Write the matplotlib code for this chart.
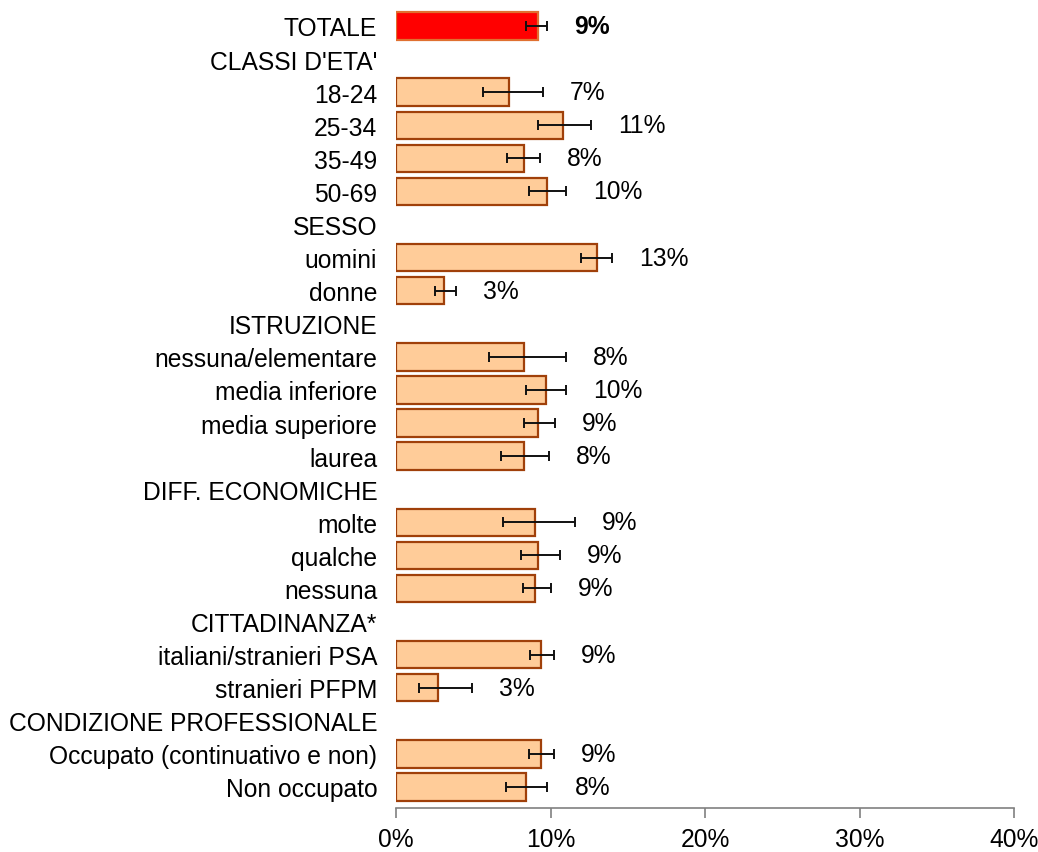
import numpy as np
import matplotlib
matplotlib.use("Agg")
import matplotlib.pyplot as plt

plt.rcParams['font.family'] = ['Liberation Sans', 'DejaVu Sans']

# Row labels (group headers have no bar)
categories = [
    "TOTALE",
    "CLASSI D'ETA'", "18-24", "25-34", "35-49", "50-69",
    "SESSO", "uomini", "donne",
    "ISTRUZIONE", "nessuna/elementare", "media inferiore", "media superiore", "laurea",
    "DIFF. ECONOMICHE", "molte", "qualche", "nessuna",
    "CITTADINANZA*", "italiani/stranieri PSA", "stranieri PFPM",
    "CONDIZIONE PROFESSIONALE", "Occupato (continuativo e non)", "Non occupato",
]

# Prevalence (%) with 95% confidence limits; None for header rows
values = [9.2,
          None, 7.3, 10.8, 8.3, 9.8,
          None, 13.0, 3.1,
          None, 8.3, 9.7, 9.2, 8.3,
          None, 9.0, 9.2, 9.0,
          None, 9.4, 2.7,
          None, 9.4, 8.4]
ci_low = [8.4,
          None, 5.6, 9.2, 7.2, 8.6,
          None, 12.0, 2.5,
          None, 6.0, 8.4, 8.3, 6.8,
          None, 6.9, 8.1, 8.2,
          None, 8.7, 1.5,
          None, 8.6, 7.1]
ci_high = [9.8,
           None, 9.5, 12.6, 9.3, 11.0,
           None, 14.0, 3.9,
           None, 11.0, 11.0, 10.3, 9.9,
           None, 11.6, 10.6, 10.0,
           None, 10.2, 4.9,
           None, 10.2, 9.8]

xticks = [0, 10, 20, 30, 40]

fig = plt.figure(figsize=(10.38, 8.53), dpi=100)
ax = fig.add_axes([0.3815, 0.0516, 0.5954, 0.9414])

n = len(categories)
y = np.arange(n)
vals = np.array([np.nan if v is None else v for v in values], dtype=float)
lo = np.array([np.nan if v is None else v for v in ci_low], dtype=float)
hi = np.array([np.nan if v is None else v for v in ci_high], dtype=float)

fill = ['#FF0000' if i == 0 else '#FFCC99' for i in range(n)]
edge = ['#E07030' if i == 0 else '#A0400A' for i in range(n)]

mask = ~np.isnan(vals)
ax.barh(y[mask], vals[mask], height=0.83,
        color=[fill[i] for i in y[mask]],
        edgecolor=[edge[i] for i in y[mask]], linewidth=1.6, zorder=2)

ax.errorbar(vals[mask], y[mask],
            xerr=[vals[mask] - lo[mask], hi[mask] - vals[mask]],
            fmt='none', ecolor='#111111', elinewidth=1.4, capsize=3.8,
            capthick=1.4, zorder=3)

for i in y[mask]:
    ax.text(hi[i] + 1.75, i, f"{vals[i]:.0f}%", va='center', ha='left',
            fontsize=17.7, color='black',
            fontweight='bold' if i == 0 else 'normal')

ax.set_ylim(n - 1 + 0.635, -0.635)
ax.set_xlim(0, 40)

ax.set_yticks(y)
ax.set_yticklabels(categories, fontsize=17.7)
ax.tick_params(axis='y', length=0, pad=13.5)

ax.set_xticks(xticks)
ax.set_xticklabels([f"{t}%" for t in xticks], fontsize=17.7)
ax.tick_params(axis='x', direction='out', length=7.5, width=1.2,
               color='#808080', pad=6)

for side in ('left', 'top', 'right'):
    ax.spines[side].set_visible(False)
ax.spines['bottom'].set_color('#808080')
ax.spines['bottom'].set_linewidth(1.2)

fig.savefig('out.png', dpi=100)
